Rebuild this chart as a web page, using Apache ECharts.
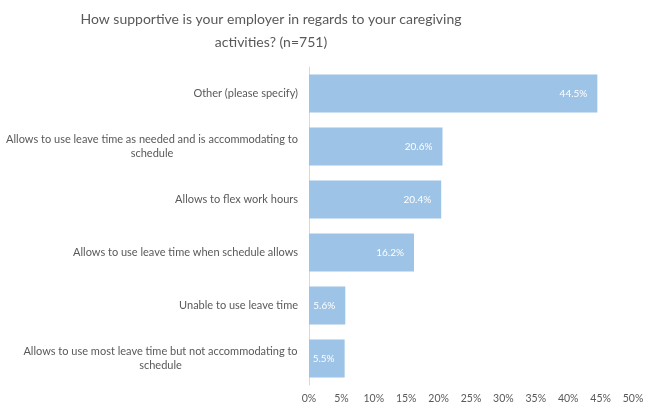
<!DOCTYPE html>
<html><head><meta charset="utf-8">
<script src="https://cdn.jsdelivr.net/npm/echarts@6/dist/echarts.min.js"></script>
<style>html,body{margin:0;padding:0;background:#fff}#c{width:647px;height:406px}</style>
</head><body><div id="c"></div>
<script>
const titleLines = ['How supportive is your employer in regards to your caregiving', 'activities? (n=751)'];
const categories = [
  'Other (please specify)',
  'Allows to use leave time as needed and is accommodating to\nschedule',
  'Allows to flex work hours',
  'Allows to use leave time when schedule allows',
  'Unable to use leave time',
  'Allows to use most leave time but not accommodating to\nschedule'
];
const values = [44.5, 20.6, 20.4, 16.2, 5.6, 5.5];
const xTicks = {min: 0, max: 50, interval: 5};

const FONT = 'Lato, "Open Sans", sans-serif';
const LABEL_SIZE = 11;
const TITLE_SIZE = 14;
const ctx = document.createElement('canvas').getContext('2d');
ctx.font = LABEL_SIZE + 'px Lato';
const rich = {};
const fmtMap = {};
categories.forEach((c, i) => {
  const lines = c.split('\n');
  if (lines.length > 1) {
    const w = Math.ceil(Math.max(...lines.map(l => ctx.measureText(l).width)));
    rich['w' + i] = {width: w, align: 'center', fontSize: LABEL_SIZE, fontFamily: FONT, color: '#595959', lineHeight: 14};
    fmtMap[c] = lines.map(l => '{w' + i + '|' + l + '}').join('\n');
  }
});

const chart = echarts.init(document.getElementById('c'));
chart.setOption({
  animation: false,
  backgroundColor: '#fff',
  title: {
    text: titleLines.join('\n'), left: 266, top: 3, textAlign: 'center',
    textStyle: {fontFamily: FONT, fontSize: TITLE_SIZE, fontWeight: 'normal', color: '#595959', lineHeight: 23}
  },
  grid: {left: 309, right: 14, top: 67, bottom: 21, containLabel: false},
  xAxis: {
    type: 'value', min: xTicks.min, max: xTicks.max, interval: xTicks.interval,
    axisLine: {show: false}, axisTick: {show: false}, splitLine: {show: false},
    axisLabel: {formatter: '{value}%', color: '#595959', fontFamily: FONT, fontSize: 10.5, margin: 8}
  },
  yAxis: {
    type: 'category', data: categories, inverse: true,
    axisLine: {show: true, lineStyle: {color: '#d9d9d9', width: 1}},
    axisTick: {show: false},
    axisLabel: {
      color: '#595959', fontFamily: FONT, fontSize: LABEL_SIZE, margin: 11, lineHeight: 14,
      formatter: v => fmtMap[v] || v, rich: rich
    }
  },
  series: [{
    type: 'bar', data: values, barCategoryGap: '28%',
    itemStyle: {color: '#9DC3E6'},
    label: {show: true, position: 'insideRight', distance: 10, formatter: '{c}%',
      color: '#fff', fontFamily: FONT, fontSize: 10}
  }]
});
</script></body></html>
